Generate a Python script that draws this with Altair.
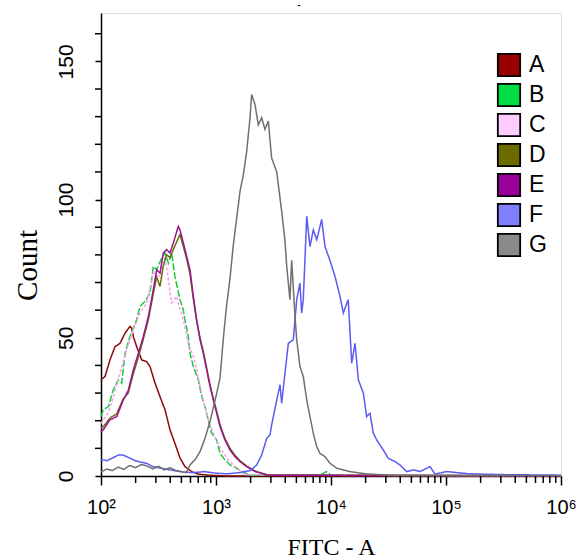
import altair as alt
import pandas as pd

names = ["A", "B", "C", "D", "E", "F", "G"]
line_colors = ["#8b0a0a", "#1ec83c", "#ff99f5", "#6b6b10", "#9a1590", "#5a5af5", "#707070"]
legend_colors = ["#990000", "#00dd44", "#ffccff", "#6b6b00", "#990099", "#8080ff", "#8a8a8a"]
dashes = [[1, 0], [7, 2], [3, 2], [1, 0], [1, 0], [1, 0], [1, 0]]

# log10(FITC) positions and counts
A_e = [2.0, 2.035, 2.078, 2.122, 2.165, 2.209, 2.252, 2.267, 2.281, 2.31, 2.354, 2.397, 2.426, 2.47, 2.513, 2.557, 2.6, 2.643, 2.687, 2.73, 2.788, 2.846, 2.93, 3.1, 6.0]
A_c = [34.8, 36, 42, 46.8, 48, 51.7, 54.1, 53.5, 50.5, 46.8, 42, 41.4, 39.6, 33.6, 28.7, 23.9, 16.7, 11.8, 6.5, 3.4, 1.6, 0.7, 0.3, 0, 0]

B_e = [2.0, 2.02, 2.064, 2.107, 2.15, 2.18, 2.209, 2.252, 2.31, 2.339, 2.383, 2.426, 2.455, 2.484, 2.528, 2.557, 2.586, 2.614, 2.643, 2.687, 2.716, 2.73, 2.759, 2.774, 2.803, 2.846, 2.876, 2.904, 2.933, 2.962, 3.006, 3.035, 3.078, 3.122, 3.18, 3.223, 3.3, 3.9, 3.96, 4.0, 6.0]
B_c = [21.5, 23.9, 25.1, 31.2, 34.8, 33.6, 44.4, 50.5, 56.5, 61.3, 63.2, 66.2, 75.8, 74.6, 78.9, 80.7, 77, 80.7, 72.2, 63.8, 60, 56.5, 50.5, 44.4, 39.6, 34.8, 28.7, 25.1, 20.3, 15.5, 13, 8.2, 5.8, 4, 2.8, 1.6, 0.3, 0.3, 1.6, 0.3, 0]

C_e = [2.0, 2.02, 2.064, 2.107, 2.165, 2.223, 2.281, 2.339, 2.397, 2.455, 2.513, 2.557, 2.586, 2.614, 2.658, 2.672, 2.716, 2.759, 2.803, 2.832, 2.861, 2.89, 2.933, 2.991, 3.049, 3.107, 3.165, 3.25, 6.0]
C_c = [19, 20.3, 23, 28.7, 37.2, 45.7, 52.9, 59, 62.6, 73.4, 72.2, 79.5, 71, 62.6, 65, 62.6, 56.5, 48, 43.2, 38.4, 32.4, 27.5, 20.3, 14.2, 9.4, 5.8, 3.4, 0.5, 0]

D_e = [2.0, 2.02, 2.078, 2.137, 2.194, 2.237, 2.281, 2.325, 2.368, 2.412, 2.455, 2.484, 2.513, 2.542, 2.571, 2.6, 2.629, 2.672, 2.687, 2.716, 2.745, 2.774, 2.803, 2.832, 2.861, 2.89, 2.919, 2.948, 2.977, 3.006, 3.035, 3.078, 3.122, 3.165, 3.209, 3.267, 3.339, 3.45, 6.0]
D_c = [17.5, 17.8, 21, 22.5, 28, 30, 37, 43, 49.5, 56.5, 66, 72, 68.6, 76, 80, 79, 82, 86, 87.3, 83, 78.5, 73, 64, 56, 50, 45, 39, 33, 28, 23.5, 18.5, 13.5, 10, 7.5, 5.5, 3.6, 1.8, 0.4, 0]

E_e = [2.0, 2.02, 2.078, 2.137, 2.194, 2.237, 2.281, 2.325, 2.368, 2.412, 2.455, 2.484, 2.513, 2.542, 2.571, 2.6, 2.629, 2.672, 2.687, 2.716, 2.745, 2.774, 2.803, 2.832, 2.861, 2.89, 2.919, 2.948, 2.977, 3.006, 3.035, 3.078, 3.122, 3.165, 3.209, 3.267, 3.339, 3.45, 6.0]
E_c = [16, 16.7, 20.3, 21.5, 27.5, 31, 38.4, 44.4, 50.5, 57.7, 67.4, 74.6, 73.4, 80.7, 81.9, 80.7, 84.3, 90.3, 89, 84.3, 79.5, 74.6, 65, 56.5, 49.3, 44.4, 38.4, 32.4, 27.5, 22.7, 17.9, 13, 9.4, 7, 5.2, 3.4, 1.6, 0.3, 0]

F_e = [2.0, 2.05, 2.1, 2.15, 2.19, 2.25, 2.3, 2.35, 2.4, 2.45, 2.5, 2.6, 2.7, 2.8, 2.9, 3.0, 3.1, 3.2, 3.3, 3.354, 3.397, 3.441, 3.47, 3.484, 3.528, 3.557, 3.571, 3.6, 3.629, 3.672, 3.702, 3.73, 3.745, 3.759, 3.789, 3.817, 3.846, 3.876, 3.919, 3.948, 3.991, 4.035, 4.078, 4.107, 4.15, 4.18, 4.209, 4.238, 4.281, 4.31, 4.339, 4.368, 4.398, 4.455, 4.498, 4.557, 4.6, 4.658, 4.716, 4.774, 4.861, 4.904, 5.006, 5.2, 5.5, 6.0]
F_c = [6, 5.5, 6.5, 7.6, 7.6, 6.5, 5.5, 5, 4.5, 3.4, 3, 2.2, 1.5, 1.2, 1.6, 1, 0.8, 1.2, 2, 4, 7.6, 13.6, 15, 18.5, 27.5, 33, 26.3, 37.2, 48, 49.3, 63.8, 69.8, 59, 63.8, 94, 83, 89, 85.5, 92.8, 83, 78, 72.2, 65, 59, 63.8, 40.8, 48, 34.8, 30, 21.5, 22.7, 15.5, 13, 9.4, 6.4, 5.2, 4, 1.6, 2.2, 1.6, 3.4, 0.7, 1.6, 0.8, 0.5, 0.3]

G_e = [2.0, 2.05, 2.1, 2.15, 2.2, 2.25, 2.3, 2.35, 2.4, 2.45, 2.5, 2.55, 2.6, 2.65, 2.7, 2.74, 2.774, 2.82, 2.861, 2.904, 2.948, 2.99, 3.035, 3.064, 3.093, 3.122, 3.151, 3.18, 3.209, 3.238, 3.267, 3.296, 3.31, 3.339, 3.368, 3.397, 3.426, 3.455, 3.484, 3.528, 3.571, 3.6, 3.615, 3.643, 3.658, 3.687, 3.702, 3.73, 3.759, 3.789, 3.817, 3.846, 3.876, 3.904, 3.948, 3.991, 4.05, 4.165, 4.3, 4.5, 6.0]
G_c = [1.5, 2.5, 2, 3.2, 2.4, 3.8, 3, 4.2, 3.6, 2.6, 3.5, 2.2, 3, 2, 1.6, 1.2, 4, 6, 8.8, 13.6, 19.7, 27, 35.4, 49.9, 62, 71.6, 83.7, 93.4, 103, 109, 117.5, 129.6, 138, 134.4, 127, 129.6, 125.4, 128.4, 115, 110, 95.8, 85, 75.8, 63.8, 78, 57.7, 49.3, 39.6, 36, 27.5, 21.5, 15.5, 10.6, 8.2, 7, 4.6, 2.8, 1.6, 0.8, 0.3, 0.2]

x_major = [100, 1000, 10000, 100000, 1000000]
x_minor = [200, 300, 400, 500, 600, 700, 800, 900,
           2000, 3000, 4000, 5000, 6000, 7000, 8000, 9000,
           20000, 30000, 40000, 50000, 60000, 70000, 80000, 90000,
           200000, 300000, 400000, 500000, 600000, 700000, 800000, 900000]
y_major = [0, 50, 100, 150]
y_minor = [10, 20, 30, 40, 60, 70, 80, 90, 110, 120, 130, 140, 160]

Y_MAX = 167.5
PLOT_W, PLOT_H = 460, 463
DECADE_PX = PLOT_W / 4.0
TICK_PX = 6

series = {"A": (A_e, A_c), "B": (B_e, B_c), "C": (C_e, C_c), "D": (D_e, D_c),
          "E": (E_e, E_c), "F": (F_e, F_c), "G": (G_e, G_c)}
rows = []
for name, (es, cs) in series.items():
    for i, (e, c) in enumerate(zip(es, cs)):
        rows.append({"series": name, "fitc": 10 ** e, "count": c, "i": i})
df = pd.DataFrame(rows)

# legend rows: 30 px apart, first centre 52 px below the top of the plot (layout only)
legend_df = pd.DataFrame({
    "series": names,
    "ly": [(PLOT_H - (52 + 30 * k)) * Y_MAX / PLOT_H for k in range(len(names))],
})
xminor_df = pd.DataFrame({"fitc": x_minor})
# each y minor tick is a short two-point segment from 6 px left of the axis to the axis
tick_left = 10 ** (2 - TICK_PX / DECADE_PX)
ytick_rows = []
for v in y_minor:
    ytick_rows.append({"tick": v, "fitc": tick_left, "count": v})
    ytick_rows.append({"tick": v, "fitc": 100, "count": v})
yminor_df = pd.DataFrame(ytick_rows)

label_expr = ("datum.value == 100 ? '10²' : datum.value == 1000 ? '10³' : "
              "datum.value == 10000 ? '10⁴' : datum.value == 100000 ? '10⁵' : "
              "datum.value == 1000000 ? '10⁶' : ''")

x_scale = alt.Scale(type="log", domain=[100, 1000000], nice=False)
x_axis = alt.Axis(values=x_major, labelExpr=label_expr, title="FITC - A",
                  grid=False, labelFlush=False,
                  tickSize=9, tickWidth=1.5, tickColor="black",
                  domainColor="black", domainWidth=1.5,
                  labelFont="Liberation Sans", labelFontSize=20, labelColor="black",
                  labelPadding=12,
                  titleFont="Liberation Serif", titleFontSize=24, titleFontWeight="normal",
                  titleColor="black", titlePadding=18)
y_scale = alt.Scale(domain=[0, Y_MAX], nice=False, zero=True)
y_axis = alt.Axis(values=y_major, title="Count", grid=False, labelAngle=-90,
                  labelAlign="center", labelBaseline="bottom", labelFlush=False,
                  tickSize=6, tickWidth=1.5, tickColor="black",
                  domainColor="black", domainWidth=1.5,
                  labelFont="Liberation Sans", labelFontSize=21, labelColor="black",
                  labelPadding=19, titleY=252,
                  titleFont="Liberation Serif", titleFontSize=29, titleFontWeight="normal",
                  titleColor="black", titlePadding=13)

lines = alt.Chart(df).mark_line(strokeWidth=1.5).encode(
    x=alt.X("fitc:Q", scale=x_scale, axis=x_axis),
    y=alt.Y("count:Q", scale=y_scale, axis=y_axis),
    color=alt.Color("series:N", scale=alt.Scale(domain=names, range=line_colors), legend=None),
    strokeDash=alt.StrokeDash("series:N", scale=alt.Scale(domain=names, range=dashes), legend=None),
    order="i:Q",
)

x_minor_ticks = alt.Chart(xminor_df).mark_rule(color="black", strokeWidth=1.5).encode(
    x=alt.X("fitc:Q", scale=x_scale, axis=x_axis),
    y=alt.value(PLOT_H), y2=alt.value(PLOT_H + 7),
)

y_minor_ticks = alt.Chart(yminor_df).mark_line(color="black", strokeWidth=1.5).encode(
    x=alt.X("fitc:Q", scale=x_scale, axis=x_axis),
    y=alt.Y("count:Q", scale=y_scale, axis=y_axis),
    detail="tick:N",
)

legend_sq = alt.Chart(legend_df).mark_square(size=500, filled=True, stroke="black",
                                             strokeWidth=1.8, opacity=1).encode(
    x=alt.value(408),
    y=alt.Y("ly:Q", scale=y_scale, axis=y_axis),
    fill=alt.Fill("series:N", scale=alt.Scale(domain=names, range=legend_colors), legend=None),
)
legend_txt = alt.Chart(legend_df).mark_text(align="left", baseline="middle", fontSize=23,
                                            font="Liberation Sans", color="black").encode(
    x=alt.value(428),
    y=alt.Y("ly:Q", scale=y_scale, axis=y_axis),
    text="series:N",
)

chart = alt.layer(lines, x_minor_ticks, y_minor_ticks, legend_sq, legend_txt).properties(
    width=PLOT_W, height=PLOT_H,
    title=alt.TitleParams("-", fontSize=9, color="black", offset=3, anchor="middle", dx=-32),
    autosize=alt.AutoSizeParams(type="none"),
    padding={"left": 101, "top": 13, "right": 21, "bottom": 84},
).configure_view(stroke="black", strokeWidth=1.5).configure(background="white")

chart.save("out.html", embed_options={"renderer": "svg", "actions": False})
